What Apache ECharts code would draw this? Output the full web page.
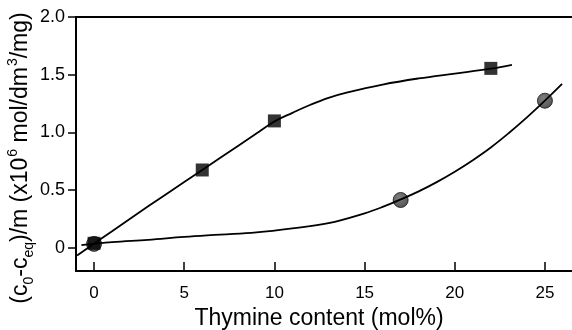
<!DOCTYPE html>
<html>
<head>
<meta charset="utf-8">
<script src="https://cdn.jsdelivr.net/npm/echarts@6/dist/echarts.min.js"></script>
<style>
  html, body { margin: 0; padding: 0; background: #fff; }
  #chart { width: 572px; height: 330px; }
</style>
</head>
<body>
<div id="chart"></div>
<script>
// measured points
const squarePts = [[0, 0.04], [6, 0.675], [10, 1.1], [22, 1.555]];
const circlePts = [[0, 0.035], [17, 0.415], [25, 1.275]];

// fitted curves
const squareCurve = [
  [-0.94, -0.065], [1, 0.145], [3, 0.36], [5, 0.57], [7, 0.78], [9, 0.99], [10, 1.095],
  [11, 1.17], [12, 1.24], [13, 1.30], [14, 1.345], [16, 1.415], [18, 1.468],
  [20, 1.51], [22, 1.552], [23.17, 1.586]
];
const circleCurve = [
  [-0.7, 0.025], [1, 0.05], [3, 0.07], [5, 0.095], [7, 0.115], [9, 0.135], [11, 0.17],
  [13, 0.215], [15, 0.3], [16, 0.355], [17, 0.42], [18, 0.49], [19, 0.57], [20, 0.66],
  [21, 0.76], [22, 0.87], [23, 0.995], [24, 1.13], [25, 1.275], [25.95, 1.42]
];

const xTicks = [0, 5, 10, 15, 20, 25];
const yTicks = [0, 0.5, 1.0, 1.5, 2.0];

const chart = echarts.init(document.getElementById("chart"));
const font = "'Liberation Sans', Arial, sans-serif";

chart.setOption({
  backgroundColor: "#fff",
  animation: false,
  textStyle: { fontFamily: font },
  grid: { left: 76, right: 0, top: 17, bottom: 59, outerBoundsMode: "none" },
  xAxis: [
    {
      type: "value",
      min: -1,
      max: 26.5,
      name: "Thymine content (mol%)",
      nameLocation: "middle",
      nameGap: 36,
      nameMoveOverlap: false,
      nameTextStyle: { fontSize: 23, color: "#000", fontFamily: font, verticalAlign: "top", padding: [0, 10, 0, 0] },
      axisLine: { onZero: false, lineStyle: { color: "#000", width: 2 } },
      axisTick: { inside: true, length: 9, customValues: xTicks, lineStyle: { color: "#000", width: 1.5 } },
      axisLabel: { customValues: xTicks, margin: 14, fontSize: 17, color: "#000", fontFamily: font },
      splitLine: { show: false }
    },
    {
      type: "value",
      position: "top",
      min: -1,
      max: 26.5,
      axisLine: { onZero: false, lineStyle: { color: "#000", width: 2 } },
      axisTick: { show: false },
      axisLabel: { show: false },
      splitLine: { show: false }
    }
  ],
  yAxis: {
    type: "value",
    min: -0.2,
    max: 2.0,
    name: "(c{sub|0}-c{sub|eq})/m (x10{sup|6} mol/dm{sup|3}/mg)",
    nameLocation: "middle",
    nameGap: 40,
    nameMoveOverlap: false,
    nameRotate: 90,
    nameTextStyle: {
      fontSize: 23,
      color: "#000",
      fontFamily: font,
      lineHeight: 30,
      padding: [0, 28, 0, 0],
      rich: {
        sub: { fontSize: 14, lineHeight: 14, verticalAlign: "bottom", color: "#000", fontFamily: font },
        sup: { fontSize: 14, lineHeight: 14, verticalAlign: "top", color: "#000", fontFamily: font, padding: [0, 0, 0, 1] }
      }
    },
    axisLine: { onZero: false, lineStyle: { color: "#000", width: 2 } },
    axisTick: { length: 8, customValues: yTicks, lineStyle: { color: "#000", width: 1.5 } },
    axisLabel: {
      customValues: yTicks,
      margin: 11,
      fontSize: 18,
      color: "#000",
      fontFamily: font,
      formatter: v => (v === 0 ? "0" : v.toFixed(1))
    },
    splitLine: { show: false }
  },
  series: [
    {
      type: "scatter",
      data: circlePts,
      symbol: "circle",
      symbolSize: 15,
      z: 2,
      itemStyle: {
        color: {
          type: "radial", x: 0.4, y: 0.35, r: 0.75,
          colorStops: [{ offset: 0, color: "#5e5e5e" }, { offset: 1, color: "#222" }]
        },
        borderColor: "#111",
        borderWidth: 1
      }
    },
    {
      type: "scatter",
      data: squarePts,
      symbol: "rect",
      symbolSize: 13,
      z: 2,
      itemStyle: { color: "#000" }
    },
    {
      type: "line",
      data: squareCurve,
      smooth: 0.4,
      showSymbol: false,
      z: 3,
      lineStyle: { color: "#000", width: 1.8 }
    },
    {
      type: "line",
      data: circleCurve,
      smooth: 0.4,
      showSymbol: false,
      z: 3,
      lineStyle: { color: "#000", width: 1.8 }
    }
  ]
});
</script>
</body>
</html>
